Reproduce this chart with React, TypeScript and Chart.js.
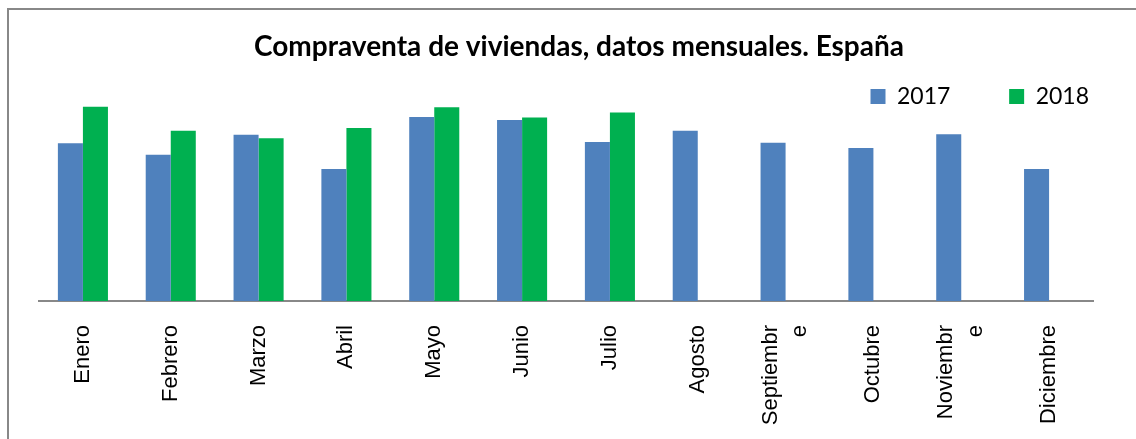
import React, { useEffect, useRef } from 'react';
import { Chart, registerables } from 'chart.js';

Chart.register(...registerables);

const titleText = 'Compraventa de viviendas, datos mensuales. España';
const categories: (string | string[])[] = [
  'Enero', 'Febrero', 'Marzo', 'Abril', 'Mayo', 'Junio', 'Julio', 'Agosto',
  ['Septiembr', 'e'], 'Octubre', ['Noviembr', 'e'], 'Diciembre',
];
const seriesNames = ['2017', '2018'];
const values2017 = [35500, 32900, 37400, 29700, 41400, 40700, 35800, 38300, 35600, 34400, 37500, 29700];
const values2018 = [43700, 38300, 36600, 38900, 43600, 41300, 42400];
const colors = ['#4F81BD', '#00B050'];

const W = 1127;
const H = 429;

// Let the legend draw its items below its (small) layout box without clipping,
// and centre multi-line tick labels on their tick.
const layoutTweaks = {
  id: 'layoutTweaks',
  afterLayout(chart: any) {
    const l = chart.legend;
    if (l) {
      l.bottom = l.top + 80;
      l.height = 80;
    }
  },
  beforeDraw(chart: any) {
    const s = chart.scales.x;
    if (!s) return;
    const items = s.getLabelItems(chart.chartArea);
    items.forEach((it: any) => {
      if (Array.isArray(it.label) && it.label.length > 1 && !it._centred) {
        it.textOffset -= (it.font.lineHeight * (it.label.length - 1)) / 2;
        it._centred = true;
      }
    });
  },
};

export default function App() {
  const ref = useRef<HTMLCanvasElement>(null);

  useEffect(() => {
    if (!ref.current) return;
    const chart = new Chart(ref.current, {
      type: 'bar',
      data: {
        labels: categories,
        datasets: [
          {
            label: seriesNames[0],
            data: values2017,
            backgroundColor: colors[0],
            categoryPercentage: 0.57,
            barPercentage: 1,
          },
          {
            label: seriesNames[1],
            data: values2018,
            backgroundColor: colors[1],
            categoryPercentage: 0.57,
            barPercentage: 1,
          },
        ],
      },
      plugins: [layoutTweaks],
      options: {
        animation: false,
        responsive: false,
        events: [],
        layout: { padding: { left: 13, right: 0, top: 0, bottom: 0 } },
        plugins: {
          title: {
            display: true,
            text: titleText,
            color: '#000',
            font: { family: 'Lato', size: 28, weight: 'bold' },
            padding: { top: 20, bottom: -25.6 },
          },
          legend: {
            display: true,
            position: 'top',
            align: 'end',
            maxHeight: 57,
            labels: {
              boxWidth: 15,
              boxHeight: 15,
              padding: 47,
              color: '#000',
              font: { family: 'Lato', size: 23 },
              generateLabels: (c: any) => {
                const items = (Chart.defaults.plugins.legend.labels as any).generateLabels(c);
                if (items[0]) items[0].text = items[0].text + '  ';
                items.forEach((it: any) => { it.lineWidth = 0; });
                return items;
              },
            },
          },
          tooltip: { enabled: false },
        },
        scales: {
          x: {
            grid: { display: false, drawTicks: false },
            border: { display: true, color: '#888888', width: 2 },
            ticks: {
              autoSkip: false,
              minRotation: 90,
              maxRotation: 90,
              padding: 24,
              color: '#000',
              font: { family: 'Liberation Sans', size: 22, lineHeight: 1.35 },
            },
            afterFit: (s: any) => { s.height = 138; },
          },
          y: {
            min: 0,
            max: 46350,
            grid: { display: false },
            border: { display: false },
            ticks: { display: false },
            afterFit: (s: any) => { s.width = 17; },
          },
          yRight: {
            type: 'linear',
            position: 'right',
            grid: { display: false },
            border: { display: false },
            ticks: { display: false },
            afterFit: (s: any) => { s.width = 43; },
          },
        },
      } as any,
    });
    return () => chart.destroy();
  }, []);

  return (
    <div
      style={{
        position: 'absolute',
        left: 7,
        top: 8,
        borderLeft: '2px solid #888888',
        borderTop: '2px solid #888888',
        background: '#fff',
      }}
    >
      <canvas ref={ref} width={W} height={H} style={{ display: 'block', width: W, height: H }} />
    </div>
  );
}
